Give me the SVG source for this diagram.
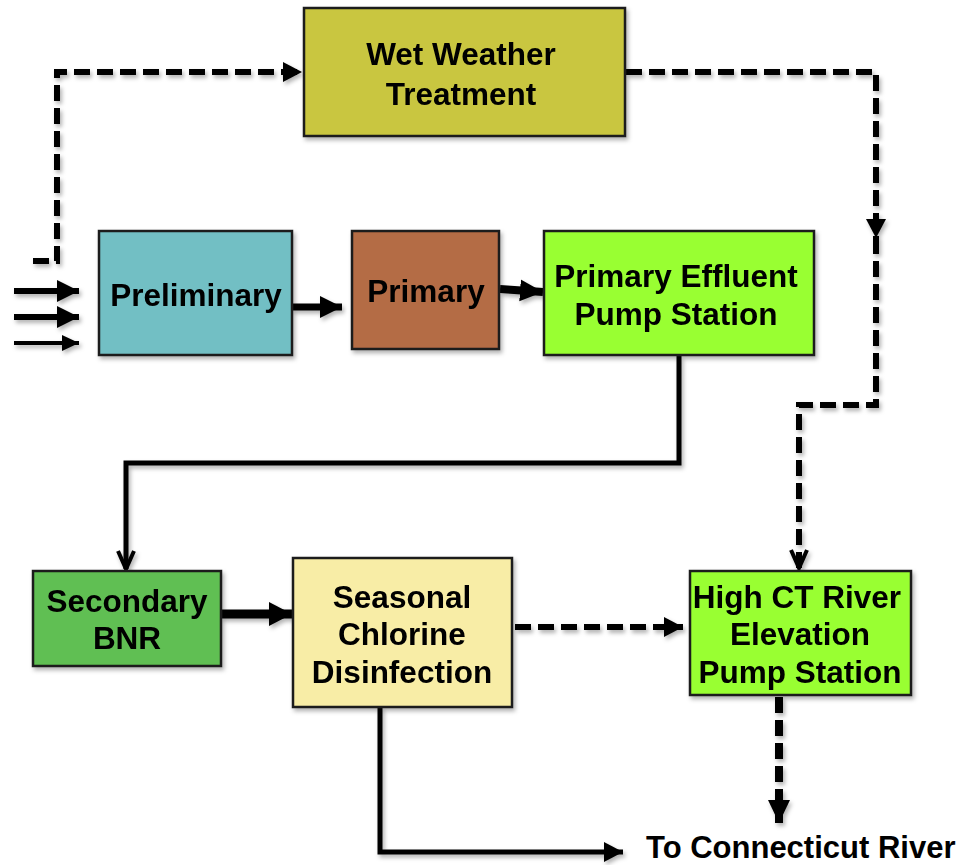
<svg xmlns="http://www.w3.org/2000/svg" width="965" height="865" viewBox="0 0 965 865">
<style>
.box{stroke:#1a1a1a;stroke-width:2.5}
.lbl{font-family:"Liberation Sans",Arial,sans-serif;font-weight:bold;font-size:31.5px;fill:#000;text-anchor:middle}
.solid{fill:none;stroke:#000;stroke-linejoin:miter}
.dash{fill:none;stroke:#000;stroke-dasharray:16 7}
</style>
<defs>
<filter id="sh" x="-20%" y="-20%" width="140%" height="140%">
<feDropShadow dx="2" dy="3" stdDeviation="2" flood-color="#000" flood-opacity="0.3"/>
</filter>
<marker id="ah" markerUnits="userSpaceOnUse" markerWidth="24" markerHeight="24" refX="22" refY="11" orient="auto">
<path d="M0,0 L22,11 L0,22 Z" fill="#000"/>
</marker>
<marker id="ahs" markerUnits="userSpaceOnUse" markerWidth="20" markerHeight="18" refX="17" refY="8" orient="auto">
<path d="M0,0 L17,8 L0,16 Z" fill="#000"/>
</marker>
<marker id="ahl" markerUnits="userSpaceOnUse" markerWidth="26" markerHeight="26" refX="23" refY="12" orient="auto">
<path d="M0,0 L23,12 L0,24 Z" fill="#000"/>
</marker>
<marker id="ahv" markerUnits="userSpaceOnUse" markerWidth="24" markerHeight="24" refX="20" refY="10" orient="auto">
<path d="M2,2 L20,10 L2,18" fill="none" stroke="#000" stroke-width="4"/>
</marker>
<marker id="ahd" markerUnits="userSpaceOnUse" markerWidth="22" markerHeight="22" refX="19" refY="10" orient="auto">
<path d="M0,0 L19,10 L0,20 Z" fill="#000"/>
</marker>
<marker id="ahb" markerUnits="userSpaceOnUse" markerWidth="26" markerHeight="26" refX="23" refY="11" orient="auto">
<path d="M0,0 L23,11 L0,22 Z" fill="#000"/>
</marker>
</defs>

<g id="connectors" filter="url(#sh)">
<path class="solid" d="M14,291 H79" stroke-width="6" marker-end="url(#ah)"/>
<path class="solid" d="M14,317 H79" stroke-width="6" marker-end="url(#ah)"/>
<path class="solid" d="M14,343 H79" stroke-width="4" marker-end="url(#ahs)"/>
<path class="dash" d="M33,261 H57 V72 H302" stroke-width="6" marker-end="url(#ahd)"/>
<path class="dash" d="M626,72 H876 V238" stroke-width="6" marker-end="url(#ahd)"/>
<path class="dash" d="M876,238 V405 H799 V568" stroke-width="6" marker-end="url(#ahv)"/>
<path class="solid" d="M292,307 H342" stroke-width="7" marker-end="url(#ah)"/>
<path class="solid" d="M500,289 L543,292" stroke-width="8" marker-end="url(#ahb)"/>
<path class="solid" d="M679,356 V463 H126 V569" stroke-width="5" marker-end="url(#ahv)"/>
<path class="solid" d="M221,614 H292" stroke-width="9" marker-end="url(#ahl)"/>
<path class="dash" d="M515,627 H683" stroke-width="6" marker-end="url(#ahd)"/>
<path class="solid" d="M380,707 V852 H623" stroke-width="5" marker-end="url(#ahd)"/>
<path class="dash" d="M779,697 V823" stroke-width="8" stroke-dasharray="15 7" marker-end="url(#ahb)"/>
</g>

<g id="wet-weather" filter="url(#sh)">
<rect class="box" x="304" y="8" width="321" height="128" fill="#C9C640"/>
<text class="lbl" x="461" y="65">Wet Weather</text>
<text class="lbl" x="461" y="105">Treatment</text>
</g>
<g id="preliminary" filter="url(#sh)">
<rect class="box" x="99" y="231" width="193" height="124" fill="#72BFC4"/>
<text class="lbl" x="196" y="306">Preliminary</text>
</g>
<g id="primary" filter="url(#sh)">
<rect class="box" x="352" y="231" width="147" height="118" fill="#B46C45"/>
<text class="lbl" x="426" y="302">Primary</text>
</g>
<g id="peps" filter="url(#sh)">
<rect class="box" x="544" y="231" width="270" height="124" fill="#99FF33"/>
<text class="lbl" x="676" y="287">Primary Effluent</text>
<text class="lbl" x="676" y="325">Pump Station</text>
</g>
<g id="secondary" filter="url(#sh)">
<rect class="box" x="33" y="571" width="188" height="95" fill="#60BF52"/>
<text class="lbl" x="127" y="612">Secondary</text>
<text class="lbl" x="127" y="649">BNR</text>
</g>
<g id="seasonal" filter="url(#sh)">
<rect class="box" x="293" y="558" width="219" height="149" fill="#F8EDA6"/>
<text class="lbl" x="402" y="608">Seasonal</text>
<text class="lbl" x="402" y="645">Chlorine</text>
<text class="lbl" x="402" y="683">Disinfection</text>
</g>
<g id="high-ct" filter="url(#sh)">
<rect class="box" x="690" y="571" width="221" height="124" fill="#99FF33"/>
<text class="lbl" x="797" y="608">High CT River</text>
<text class="lbl" x="800" y="645">Elevation</text>
<text class="lbl" x="800" y="683">Pump Station</text>
</g>
<g id="river">
<text class="lbl" x="646" y="858" style="text-anchor:start;font-size:31px">To Connecticut River</text>
</g>
</svg>
